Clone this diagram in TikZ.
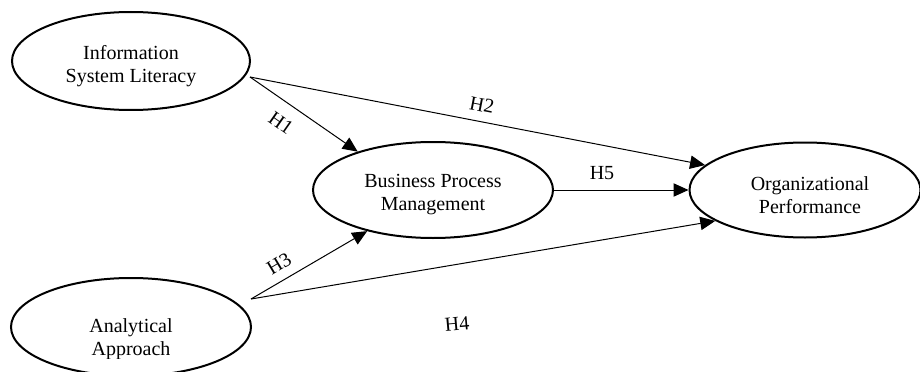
\documentclass[tikz,border=0pt]{standalone}
\usepackage{fontspec}
\setmainfont{Liberation Serif}
\usetikzlibrary{shapes.geometric,arrows.meta}
\begin{document}
\begin{tikzpicture}[x=0.6pt,y=-0.6pt,
  font=\fontsize{12pt}{13.8pt}\selectfont,
  el/.style={draw,ellipse,line width=1.2pt,inner sep=0pt},
  txt/.style={align=center,inner sep=0pt},
  conn/.style={line width=0.6pt,-{Triangle[length=9pt,width=8pt]}},
  plain/.style={line width=0.6pt},
  hlab/.style={inner sep=0pt}]
\clip (0,0) rectangle (920,371);
% ellipses
\node[el,minimum width=142.8pt,minimum height=58.8pt] (isl) at (131,61) {};
\node[txt] (islt) at (131,66.5) {Information\\System Literacy};
\node[el,minimum width=144pt,minimum height=57.6pt] (bpm) at (433,190) {};
\node[txt] (bpmt) at (433,195) {Business Process\\Management};
\node[el,minimum width=138.6pt,minimum height=57pt] (op) at (805,190) {};
\node[txt] (opt) at (810,195) {Organizational\\Performance};
\node[el,minimum width=144pt,minimum height=58.8pt] (aa) at (131,327) {};
\begin{scope}
  \clip (0,300) rectangle (300,358);
  \node[txt] (aat) at (131,339) {Analytical\\Approach};
\end{scope}
% connector start points
\coordinate (islout) at (250,77);
\coordinate (aaout) at (251,299);
% connectors
\draw[conn] (islout) -- (bpm.153);
\draw[conn] (islout) -- (op.166);
\draw[conn] (bpm.east) -- (op.west);
\draw[conn] (aaout) -- (bpm.212);
\draw[conn] (aaout) -- (op.199);
% labels
\node[hlab,rotate=-35] (h1) at (281,123) {H1};
\node[hlab,rotate=-11] (h2) at (482,105) {H2};
\node[hlab] (h5) at (602,173) {H5};
\node[hlab,rotate=31] (h3) at (279,264) {H3};
\node[hlab,rotate=5] (h4) at (457,324) {H4};
\end{tikzpicture}
\end{document}
